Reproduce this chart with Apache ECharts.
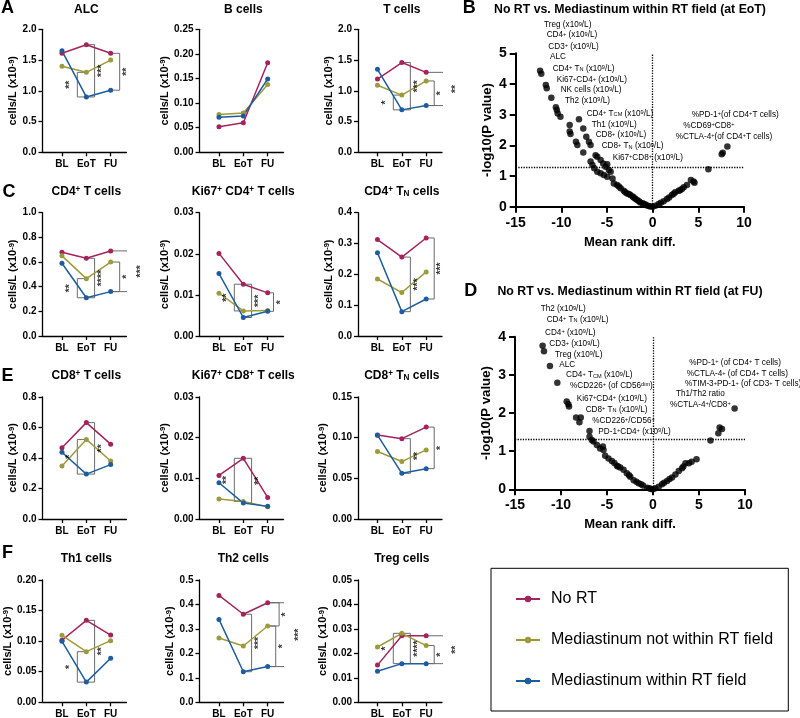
<!DOCTYPE html>
<html><head><meta charset="utf-8">
<script src="https://cdn.jsdelivr.net/npm/echarts@6/dist/echarts.min.js"></script>
<style>html,body{margin:0;padding:0;background:#fff}#c{width:800px;height:718px}</style>
</head><body><div id="c"></div>
<script>
// ---------------- DATA ----------------
const timepoints = ['BL', 'EoT', 'FU'];
const groups = ['No RT', 'Mediastinum not within RT field', 'Mediastinum within RT field'];

// each: [No RT, Mediastinum not within RT field, Mediastinum within RT field] x [BL, EoT, FU]
const alcValues   = [[1.61, 1.75, 1.61], [1.40, 1.30, 1.50], [1.65, 0.90, 1.01]];
const bValues     = [[0.052, 0.060, 0.182], [0.077, 0.080, 0.138], [0.071, 0.074, 0.149]];
const tValues     = [[1.19, 1.46, 1.30], [1.09, 0.93, 1.16], [1.35, 0.69, 0.76]];
const cd4Values   = [[0.68, 0.63, 0.69], [0.65, 0.465, 0.60], [0.59, 0.31, 0.36]];
const ki4Values   = [[0.0201, 0.0126, 0.0105], [0.0104, 0.0061, 0.0062], [0.0152, 0.0045, 0.0060]];
const cd4nValues  = [[0.313, 0.256, 0.318], [0.185, 0.141, 0.208], [0.270, 0.079, 0.120]];
const cd8Values   = [[0.466, 0.631, 0.490], [0.347, 0.521, 0.380], [0.437, 0.294, 0.356]];
const ki8Values   = [[0.0107, 0.0149, 0.0053], [0.0049, 0.0043, 0.0030], [0.0089, 0.0039, 0.0031]];
const cd8nValues  = [[0.1030, 0.0986, 0.1128], [0.0828, 0.0705, 0.0848], [0.1029, 0.0561, 0.0618]];
const th1Values   = [[0.1014, 0.134, 0.110], [0.1095, 0.0828, 0.1008], [0.0997, 0.033, 0.072]];
const th2Values   = [[0.437, 0.360, 0.407], [0.263, 0.230, 0.312], [0.339, 0.125, 0.146]];
const tregValues  = [[0.0152, 0.0272, 0.0272], [0.0226, 0.0282, 0.0232], [0.0127, 0.0158, 0.0158]];

const panelTitles = ['ALC', 'B cells', 'T cells', 'CD4^{+} T cells', 'Ki67^{+} CD4^{+} T cells', 'CD4^{+} T_{N} cells',
  'CD8^{+} T cells', 'Ki67^{+} CD8^{+} T cells', 'CD8^{+} T_{N} cells', 'Th1 cells', 'Th2 cells', 'Treg cells'];
const panelValues = [alcValues, bValues, tValues, cd4Values, ki4Values, cd4nValues, cd8Values, ki8Values, cd8nValues, th1Values, th2Values, tregValues];
const panelMax  = [2, 0.25, 2, 1.0, 0.03, 0.4, 0.8, 0.03, 0.15, 0.20, 0.5, 0.05];
const panelStep = [0.5, 0.05, 0.5, 0.2, 0.01, 0.1, 0.2, 0.01, 0.05, 0.05, 0.1, 0.01];
const panelDec  = [1, 2, 1, 1, 2, 1, 1, 2, 2, 2, 1, 2];

// significance: [timepoint index, group a, group b, stars]
const panelSig = [
  [[1, 1, 2, '**'], [1, 0, 2, '***'], [2, 0, 2, '**']],
  [],
  [[1, 1, 2, '*'], [1, 0, 2, '***'], [2, 1, 2, '*'], [2, 0, 2, '**']],
  [[1, 1, 2, '**'], [1, 0, 2, '****'], [2, 1, 2, '*'], [2, 0, 2, '***']],
  [[1, 0, 1, '**'], [1, 0, 2, '***'], [2, 0, 2, '*']],
  [[1, 0, 2, '***'], [2, 0, 2, '***']],
  [[1, 1, 2, '*'], [1, 0, 2, '**']],
  [[1, 0, 1, '**'], [1, 0, 2, '**']],
  [[1, 0, 2, '**'], [2, 0, 2, '*']],
  [[1, 1, 2, '*'], [1, 0, 2, '**']],
  [[1, 0, 2, '***'], [2, 1, 2, '*'], [2, 0, 1, '*'], [2, 0, 2, '***']],
  [[1, 1, 2, '*'], [1, 1, 2, '****'], [2, 1, 2, '*'], [2, 0, 2, '**']]
];
// bracket offsets (layout, category units) parallel to panelSig
const sigOffset = [
  [-0.37, 0.34, 0.37], [], [-0.35, 0.35, 0.33, 0.95], [-0.37, 0.34, 0.37, 0.96],
  [-0.37, 0.34, 0.24], [0.35, 0.33], [-0.37, 0.34], [-0.37, 0.34], [0.35, 0.33],
  [-0.37, 0.34], [0.34, 0.33, 0.47, 1.0], [-0.35, 0.35, 0.33, 0.95]
];

// Volcano B (EoT)
const eotRankDiff = [-12.33,-12.2,-11.7,-11.6,-11.1,-10.6,-10.5,-10.4,-10.1,-9.09,-9.09,-9.0,-8.4,-8.25,-7.6,-8.07,-7.6,-7.27,-6.98,-6.8,-6.8,-6.6,-6.25,-6.07,-5.7,-5.42,-5.16,-4.98,-4.8,-4.6,-6.4,-6.07,-5.7,-5.35,-4.98,-4.4,-4.25,-3.9,-3.5,-3.16,-2.8,-2.44,-2.07,-1.7,-1.35,-0.98,-0.62,-0.25,0,
  -3.7,-3.0,-2.6,-2.2,-1.9,-1.5,-1.1,-0.8,-0.4,
  0.29,0.65,1.2,1.56,2.1,2.47,2.84,3.0,3.4,3.75,4.18,4.47,4.58,6.1,7.56,7.67,8.18, 0.9,1.8,2.3,3.2];
const eotLogP = [4.43,4.33,3.97,3.86,3.55,3.24,3.15,3.04,2.93,2.66,2.45,2.37,2.12,2.01,1.77,2.85,2.55,2.28,2.12,2.01,1.47,1.36,1.68,1.63,1.52,1.41,1.30,1.38,1.20,1.14,1.25,1.14,1.09,1.03,0.98,0.92,0.76,0.71,0.60,0.52,0.43,0.38,0.30,0.22,0.14,0.09,0.04,0.01,0,
  0.66,0.47,0.41,0.33,0.26,0.18,0.11,0.07,0.02,
  0.03,0.09,0.18,0.25,0.38,0.47,0.52,0.54,0.63,0.71,0.87,0.82,0.78,1.22,1.71,1.76,1.96, 0.13,0.30,0.42,0.58];
// Volcano D (FU)
const fuRankDiff = [-12.0,-11.85,-11.2,-10.4,-9.38,-9.2,-9.13,-8.36,-7.85,-8.0,-6.9,-6.9,-6.65,-6.47,-6.1,-5.75,-5.45,-5.38,-5.2,-4.84,-4.47,-3.93,-3.56,-3.2,-2.84,-2.47,-2.1,-1.56,-1.09,-0.65,-0.22,
  -4.2,-3.8,-2.6,-1.8,-1.3,-0.4,0,
  0.25,0.62,0.98,1.53,2.07,2.44,2.8,3.16,3.53,3.9,4.73,6.25,7.1,7.24,7.5,8.87, 1.2,1.8,3.3,4.2];
const fuLogP = [3.76,3.62,3.23,2.79,2.30,2.23,2.17,1.88,1.88,1.76,1.53,1.38,1.29,1.25,1.16,1.07,1.12,1.03,0.88,0.81,0.74,0.62,0.57,0.51,0.42,0.33,0.24,0.16,0.10,0.04,0.01,
  0.69,0.60,0.37,0.20,0.13,0.03,0,
  0.03,0.07,0.13,0.22,0.31,0.39,0.48,0.55,0.68,0.68,0.79,1.28,1.47,1.62,1.58,2.12, 0.17,0.27,0.60,0.72];
const sigThreshold = 1.3; // -log10(0.05)

const eotLabels = ['Treg (x10^{9}/L)', 'CD4^{+} (x10^{9}/L)', 'CD3^{+} (x10^{9}/L)', 'ALC', 'CD4^{+} T_{N} (x10^{9}/L)',
  'Ki67^{+}CD4^{+} (x10^{9}/L)', 'NK cells (x10^{9}/L)', 'Th2 (x10^{9}/L)', 'CD4^{+} T_{CM} (x10^{9}/L)', 'Th1 (x10^{9}/L)',
  'CD8^{+} (x10^{9}/L)', 'CD8^{+} T_{N} (x10^{9}/L)', 'Ki67^{+}CD8^{+} (x10^{9}/L)',
  '%PD-1^{+}(of CD4^{+}T cells)', '%CD69^{+}CD8^{+}', '%CTLA-4^{+}(of CD4^{+}T cells)'];
const fuLabels = ['Th2 (x10^{9}/L)', 'CD4^{+} T_{N} (x10^{9}/L)', 'CD4^{+} (x10^{9}/L)', 'CD3^{+} (x10^{9}/L)', 'Treg (x10^{9}/L)', 'ALC',
  'CD4^{+} T_{CM} (x10^{9}/L)', '%CD226^{+} (of CD56^{dim})', 'Ki67^{+}CD4^{+} (x10^{9}/L)', 'CD8^{+} T_{N} (x10^{9}/L)',
  '%CD226^{+}/CD56^{+}', 'PD-1^{+}CD4^{+} (x10^{9}/L)',
  '%PD-1^{+} (of CD4^{+} T cells)', '%CTLA-4^{+} (of CD4^{+} T cells)', '%TIM-3^{+}PD-1^{+} (of CD3^{+} T cells)', 'Th1/Th2 ratio', '%CTLA-4^{+}/CD8^{+}'];

// ---------------- LAYOUT / STYLE ----------------
const FF = '"Liberation Sans", Arial, Helvetica, sans-serif';
const colors = ['#a3245c', '#9d9a3c', '#1d5c9e'];
const colX = [42.5, 199.5, 358];
const rowY = [29.3, 212.7, 396.8, 580];
const rowH = [123, 123.3, 122.2, 122.3];
const PW = 84;
const titleY = [9.5, 191.7, 376, 558.3];
const eotLabelPos = [[544,25],[546.7,35],[548.3,46.7],[550,56.7],[552.7,68.3],[556.7,80],[560.7,90],[565,100.7],[586.7,113.3],[591.7,124.3],[595.7,135],[601.7,146],[612.7,157.7],[691.7,114.3],[683.3,125.7],[675.7,136.7]];
const fuLabelPos = [[540.7,309],[546.7,319.3],[545,332.3],[549.3,344],[555,354.3],[559.3,364.3],[566,375],[570,385.7],[576.7,398.3],[585.7,409.3],[592.3,420.7],[598.3,431.7],[689.3,362.3],[686.7,374],[685,384],[676,393.3],[670,404.3]];

function rt(s) { return s.replace(/\^\{([^}]*)\}/g, '{s|$1}').replace(/_\{([^}]*)\}/g, '{b|$1}'); }
function rich(fs, w) {
  const sm = Math.round(fs * 0.68 * 10) / 10;
  return {
    s: { fontSize: sm, fontWeight: w, fontFamily: FF, color: '#000', fill: '#000', verticalAlign: 'top' },
    b: { fontSize: sm, fontWeight: w, fontFamily: FF, color: '#000', fill: '#000', verticalAlign: 'bottom' }
  };
}
function gtext(x, y, str, fs, w, align, extra) {
  return Object.assign({ type: 'text', x: x, y: y, z: 10, silent: true,
    style: { text: rt(str), fontSize: fs, fontWeight: w, fontFamily: FF, fill: '#000',
      align: align || 'center', verticalAlign: 'middle', rich: rich(fs, w) } }, extra || {});
}

const grids = [], xAxes = [], yAxes = [], series = [], graphics = [];
const axisBlack = { color: '#000', width: 1.3 };

panelValues.forEach((vals, i) => {
  const r = Math.floor(i / 3), c = i % 3;
  grids.push({ left: colX[c], top: rowY[r], width: PW, height: rowH[r], containLabel: false, outerBoundsMode: 'none' });
  xAxes.push({ gridIndex: i, type: 'value', min: -0.8, max: 2.65, splitLine: { show: false },
    axisLine: { show: true, onZero: false, lineStyle: axisBlack },
    axisTick: { show: true, customValues: [0, 1, 2], length: 4, lineStyle: axisBlack },
    axisLabel: { customValues: [0, 1, 2], formatter: v => timepoints[Math.round(v)], fontSize: 10, fontWeight: 'bold', color: '#000', fontFamily: FF, margin: 7 } });
  const dec = panelDec[i];
  yAxes.push({ gridIndex: i, type: 'value', min: 0, max: panelMax[i], interval: panelStep[i], splitLine: { show: false },
    axisLine: { show: true, onZero: false, lineStyle: axisBlack },
    axisTick: { show: true, length: 4, lineStyle: axisBlack },
    axisLabel: { formatter: v => v.toFixed(dec), fontSize: 10, fontWeight: 'bold', color: '#000', fontFamily: FF, margin: 6 },
    name: 'cells/L (x10{s|-9})', nameLocation: 'middle', nameGap: 20,
    nameTextStyle: { fontSize: 11, fontWeight: 'bold', color: '#000', fontFamily: FF, rich: rich(11, 'bold') } });
  // brackets
  const sig = panelSig[i];
  const lblData = [];
  sig.forEach((s, k) => {
    const [t, a, b, stars] = s;
    const d = sigOffset[i][k];
    const sg = d < 0 ? -1 : 1;
    const ya = vals[a][t], yb = vals[b][t];
    series.push({ type: 'line', xAxisIndex: i, yAxisIndex: i, silent: true, clip: false, symbol: 'none', z: 1,
      lineStyle: { color: '#6b6b6b', width: 1 },
      data: [[t + sg * 0.06, ya], [t + d, ya], [t + d, yb], [t + sg * 0.06, yb]] });
    lblData.push({ value: [t + d + sg * 0.3, (ya + yb) / 2], name: stars });
  });
  if (lblData.length) {
    series.push({ type: 'scatter', xAxisIndex: i, yAxisIndex: i, silent: true, clip: false, symbolSize: 0.1,
      itemStyle: { color: 'transparent' }, z: 4,
      label: { show: true, formatter: '{b}', rotate: 90, position: 'inside', fontSize: 10.5, fontWeight: 'bold', color: '#000', fontFamily: FF },
      data: lblData });
  }
  vals.forEach((g, gi) => {
    series.push({ type: 'line', name: groups[gi], xAxisIndex: i, yAxisIndex: i, clip: false, z: 3,
      symbol: 'circle', symbolSize: 5, color: colors[gi],
      lineStyle: { width: 1.5, color: colors[gi] }, itemStyle: { color: colors[gi] },
      data: g.map((v, ti) => [ti, v]) });
  });
  graphics.push(gtext(colX[c] + 1.8 * PW / 3.45, titleY[r], panelTitles[i], 12, 'bold'));
});

// volcano panels
const volc = [
  { x: eotRankDiff, y: eotLogP, left: 515.7, top: 53.3, width: 228.3, height: 153.4, ymax: 5 },
  { x: fuRankDiff, y: fuLogP, left: 515, top: 336.7, width: 230, height: 152.6, ymax: 4 }
];
const axisBold = { color: '#000', width: 2 };
volc.forEach((v, k) => {
  const gi = grids.length;
  grids.push({ left: v.left, top: v.top, width: v.width, height: v.height, containLabel: false, outerBoundsMode: 'none' });
  xAxes.push({ gridIndex: gi, type: 'value', min: -15, max: 10, interval: 5, splitLine: { show: false },
    axisLine: { show: true, onZero: false, lineStyle: axisBold },
    axisTick: { show: true, length: 6, lineStyle: axisBold },
    axisLabel: { fontSize: 14, fontWeight: 'bold', color: '#000', fontFamily: FF, margin: 9 },
    name: 'Mean rank diff.', nameLocation: 'middle', nameGap: 29,
    nameTextStyle: { fontSize: 13, fontWeight: 'bold', color: '#000', fontFamily: FF } });
  yAxes.push({ gridIndex: gi, type: 'value', min: 0, max: v.ymax, interval: 1, splitLine: { show: false },
    axisLine: { show: true, onZero: false, lineStyle: axisBold },
    axisTick: { show: true, length: 6, lineStyle: axisBold },
    axisLabel: { fontSize: 14, fontWeight: 'bold', color: '#000', fontFamily: FF, margin: 9 },
    name: '-log10(P value)', nameLocation: 'middle', nameGap: 22,
    nameTextStyle: { fontSize: 13.2, fontWeight: 'bold', color: '#000', fontFamily: FF } });
  series.push({ type: 'scatter', name: k ? 'FU volcano' : 'EoT volcano', xAxisIndex: gi, yAxisIndex: gi, symbolSize: 6.5,
    itemStyle: { color: '#000' }, z: 3,
    data: v.x.map((xv, j) => [xv, v.y[j]]),
    markLine: { silent: true, symbol: 'none', label: { show: false }, animation: false,
      lineStyle: { type: 'dotted', color: '#000', width: 1.3 },
      data: [{ yAxis: sigThreshold }, { xAxis: 0 }] } });
});

graphics.push(gtext(630, 9.5, 'No RT vs. Mediastinum within RT field (at EoT)', 12.3, 'bold'));
graphics.push(gtext(630, 291.7, 'No RT vs. Mediastinum within RT field (at FU)', 12.3, 'bold'));
eotLabels.forEach((t, j) => graphics.push(gtext(eotLabelPos[j][0], eotLabelPos[j][1], t, 8.2, 'normal', 'left')));
fuLabels.forEach((t, j) => graphics.push(gtext(fuLabelPos[j][0], fuLabelPos[j][1], t, 8.2, 'normal', 'left')));

// panel letters
[['A', 7.5, 8], ['C', 9, 192.5], ['E', 7.5, 375.7], ['F', 7.5, 553], ['B', 469.2, 8.5], ['D', 470.8, 290.8]]
  .forEach(l => graphics.push(gtext(l[1], l[2], l[0], 18, 'bold')));

// legend border
graphics.push({ type: 'rect', silent: true, shape: { x: 491, y: 568.3, width: 297.3, height: 142.7 },
  style: { fill: 'none', stroke: '#000', lineWidth: 1 } });

const chart = echarts.init(document.getElementById('c'));
chart.setOption({
  animation: false,
  backgroundColor: '#fff',
  textStyle: { fontFamily: FF },
  grid: grids, xAxis: xAxes, yAxis: yAxes, series: series, graphic: graphics,
  legend: { data: groups, orient: 'vertical', left: 510, top: 586, itemWidth: 24, itemHeight: 8, itemGap: 25,
    selectedMode: false,
    textStyle: { fontSize: 16, color: '#000', fontFamily: FF, padding: [0, 0, 0, 6] } }
});
</script></body></html>
